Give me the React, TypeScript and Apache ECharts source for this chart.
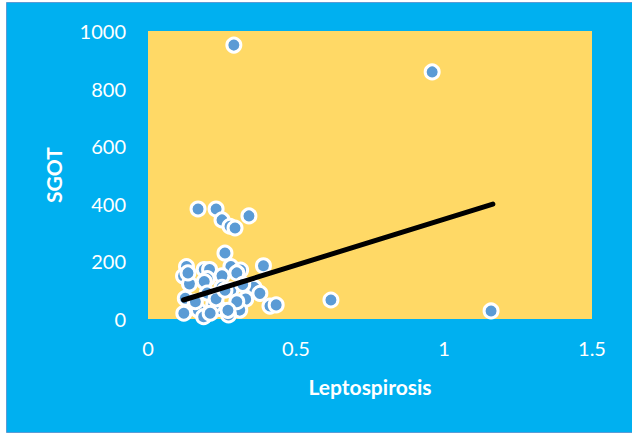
import React, { useEffect, useRef } from "react";
import * as echarts from "echarts";

const leptospirosis: number[] = [
  0.29, 0.96, 0.618, 1.159,
  0.169, 0.23, 0.25, 0.277, 0.294, 0.341,
  0.26,
  0.13, 0.12, 0.14, 0.135, 0.19, 0.208, 0.2, 0.19, 0.28, 0.313, 0.39, 0.3, 0.25,
  0.28, 0.25, 0.358, 0.378, 0.33, 0.412, 0.433, 0.121, 0.17, 0.241, 0.31, 0.272,
  0.188, 0.126, 0.222, 0.2, 0.16, 0.3, 0.23, 0.26, 0.32, 0.21, 0.27,
];
const sgot: number[] = [
  951, 858, 66, 28,
  382, 382, 344, 322, 316, 358,
  229,
  182, 149, 122, 160, 172, 172, 140, 130, 182, 170, 185, 160, 150,
  101, 110, 110, 89, 69, 45, 49, 20, 31, 37, 31, 14,
  8, 72, 49, 90, 60, 60, 70, 100, 120, 20, 30,
];
const trendX: number[] = [0.12, 1.165];
const trendY: number[] = [66, 399];

export default function App() {
  const ref = useRef<HTMLDivElement>(null);
  useEffect(() => {
    if (!ref.current) return;
    const chart = echarts.init(ref.current, null, { renderer: "svg" });
    const font = "Lato";
    chart.setOption({
      animation: false,
      backgroundColor: "#ffffff",
      graphic: [
        {
          type: "rect",
          z: -10,
          silent: true,
          shape: { x: 6.5, y: 2.5, width: 626, height: 430 },
          style: { fill: "#00B0F0", stroke: "#5B9BD5", lineWidth: 1 },
        },
      ],
      grid: {
        left: 148,
        top: 31,
        right: 40,
        bottom: 116,
        show: true,
        backgroundColor: "#FFD966",
        borderWidth: 0,
      },
      xAxis: {
        type: "value",
        min: 0,
        max: 1.5,
        interval: 0.5,
        name: "Leptospirosis",
        nameLocation: "middle",
        nameGap: 57,
        nameTextStyle: { color: "#ffffff", fontFamily: font, fontWeight: "bold", fontSize: 21 },
        axisLine: { show: false },
        axisTick: { show: false },
        splitLine: { show: false },
        axisLabel: {
          color: "#ffffff",
          fontFamily: font,
          fontSize: 20,
          margin: 19,
          formatter: (v: number) => String(v),
        },
      },
      yAxis: {
        type: "value",
        min: 0,
        max: 1000,
        interval: 200,
        name: "SGOT",
        nameLocation: "middle",
        nameGap: 84,
        nameTextStyle: { color: "#ffffff", fontFamily: font, fontWeight: "bold", fontSize: 21 },
        axisLine: { show: false },
        axisTick: { show: false },
        splitLine: { show: false },
        axisLabel: {
          color: "#ffffff",
          fontFamily: font,
          fontSize: 20,
          margin: 22,
          formatter: (v: number) => String(v),
        },
      },
      series: [
        {
          type: "scatter",
          data: leptospirosis.map((x, i) => [x, sgot[i]]),
          symbol: "circle",
          symbolSize: 14,
          itemStyle: { color: "#5B9BD5", borderColor: "#ffffff", borderWidth: 3, opacity: 1 },
          z: 2,
        },
        {
          type: "line",
          data: trendX.map((x, i) => [x, trendY[i]]),
          showSymbol: false,
          symbol: "none",
          lineStyle: { color: "#000000", width: 5, cap: "round" },
          z: 3,
        },
      ],
    });
    return () => chart.dispose();
  }, []);
  return (
    <div
      ref={ref}
      style={{ position: "fixed", left: 0, top: 0, width: 632, height: 435 }}
    />
  );
}
